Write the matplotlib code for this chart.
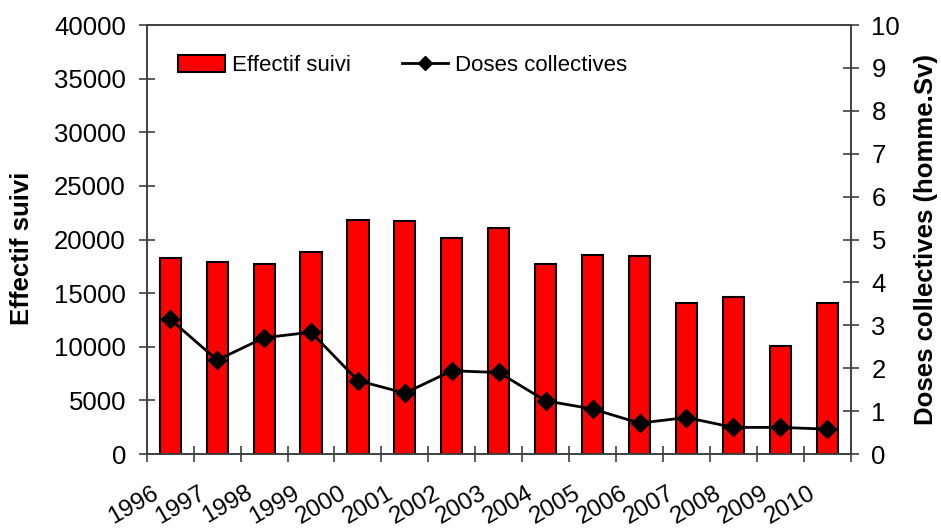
import matplotlib
matplotlib.use("Agg")
from matplotlib import pyplot as plt
from matplotlib.patches import Patch
from matplotlib.lines import Line2D
import matplotlib.transforms as mtransforms
import numpy as np

plt.rcParams['font.family'] = ['Liberation Sans', 'DejaVu Sans']

# data
years = ['1996', '1997', '1998', '1999', '2000', '2001', '2002', '2003',
         '2004', '2005', '2006', '2007', '2008', '2009', '2010']
effectif = [18250, 17900, 17700, 18850, 21850, 21700, 20150, 21100,
            17700, 18600, 18450, 14050, 14650, 10100, 14050]
doses = [3.14, 2.19, 2.71, 2.84, 1.71, 1.42, 1.94, 1.90,
         1.24, 1.05, 0.72, 0.85, 0.62, 0.62, 0.58]

spine_col = '#404040'

fig = plt.figure(figsize=(9.41, 5.32), dpi=100)
ax1 = fig.add_axes([0.156, 0.1466, 0.748, 0.8064])
ax2 = ax1.twinx()

x = np.arange(len(years))

ax1.bar(x, effectif, width=0.45, color='#ff0000', edgecolor='black', linewidth=1.5, zorder=2)
ax2.plot(x, doses, color='black', lw=2, marker='D', markersize=9, zorder=3)

ax1.set_xlim(-0.5, len(years) - 0.5)
ax1.set_ylim(0, 40000)
ax2.set_ylim(0, 10)
ax1.set_yticks(np.arange(0, 40001, 5000))
ax2.set_yticks(np.arange(0, 11, 1))

# category labels at centres, tick marks at the boundaries
ax1.set_xticks(x)
ax1.set_xticklabels(years, rotation=30, ha='right', va='top')
ax1.set_xticks(np.arange(-0.5, len(years)), minor=True)
ax1.tick_params(axis='x', which='major', length=0, pad=20, labelsize=17.5)
ax1.tick_params(axis='x', which='minor', direction='inout', length=12, width=1.2, color=spine_col)
shift = mtransforms.ScaledTranslation(-8 / 100, 0, fig.dpi_scale_trans)
for lab in ax1.get_xticklabels():
    lab.set_transform(lab.get_transform() + shift)

ax1.tick_params(axis='y', direction='inout', length=12, width=1.2, color=spine_col, pad=9, labelsize=18.5)
ax2.tick_params(axis='y', direction='inout', length=12, width=1.2, color=spine_col, pad=9, labelsize=18.5)

for ax in (ax1, ax2):
    for s in ax.spines.values():
        s.set_color(spine_col)
        s.set_linewidth(1.2)

ax1.set_ylabel('Effectif suivi', fontsize=18.5, fontweight='bold')
ax1.yaxis.set_label_coords(-0.16, 0.48)
ax2.set_ylabel('Doses collectives (homme.Sv)', fontsize=18.5, fontweight='bold', rotation=90)
ax2.yaxis.set_label_coords(1.09, 0.5)

handles = [Patch(facecolor='#ff0000', edgecolor='black', linewidth=1.5),
           Line2D([], [], color='black', lw=2, marker='D', markersize=7)]
ax2.legend(handles, ['Effectif suivi', 'Doses collectives'], ncol=2, frameon=False,
           loc='center left', bbox_to_anchor=(0.045, 0.905), borderpad=0, borderaxespad=0,
           handlelength=2.1, handleheight=0.75, handletextpad=0.3, columnspacing=2.3,
           fontsize=16)

fig.savefig('out.png', dpi=100)
